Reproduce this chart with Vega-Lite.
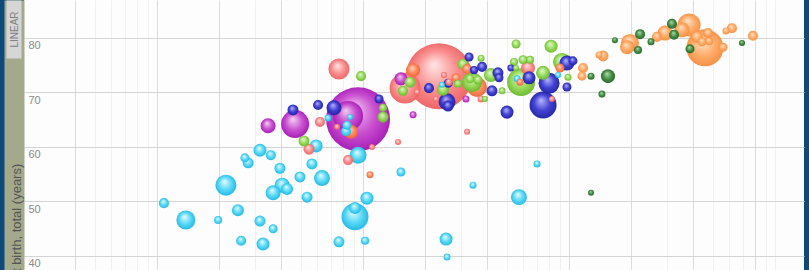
{
  "$schema": "https://vega.github.io/schema/vega-lite/v6.json",
  "width": 780,
  "height": 270,
  "autosize": "none",
  "padding": {"left": 24, "top": 0, "right": 5, "bottom": 0},
  "background": "#0d4a7a",
  "view": {"fill": "#fdfdfd", "stroke": null},
  "config": {"font": "Liberation Sans"},
  "data": {"values": [
    {"region":"Africa","income":108,"life":49.7,"pop":31},
    {"region":"Africa","income":138,"life":46.6,"pop":110},
    {"region":"Africa","income":198,"life":46.6,"pop":20},
    {"region":"Africa","income":216,"life":53.0,"pop":135},
    {"region":"Africa","income":247,"life":48.4,"pop":44},
    {"region":"Africa","income":256,"life":42.8,"pop":31},
    {"region":"Africa","income":267,"life":58.0,"pop":25},
    {"region":"Africa","income":277,"life":57.1,"pop":37},
    {"region":"Africa","income":316,"life":59.4,"pop":52},
    {"region":"Africa","income":316,"life":46.4,"pop":37},
    {"region":"Africa","income":327,"life":42.2,"pop":52},
    {"region":"Africa","income":357,"life":58.5,"pop":31},
    {"region":"Africa","income":366,"life":45.0,"pop":25},
    {"region":"Africa","income":395,"life":56.1,"pop":37},
    {"region":"Africa","income":405,"life":53.0,"pop":69},
    {"region":"Africa","income":366,"life":51.6,"pop":69},
    {"region":"Africa","income":428,"life":52.3,"pop":44},
    {"region":"Africa","income":494,"life":54.5,"pop":37},
    {"region":"Africa","income":535,"life":50.8,"pop":37},
    {"region":"Africa","income":565,"life":56.9,"pop":37},
    {"region":"Africa","income":632,"life":54.3,"pop":78},
    {"region":"Africa","income":592,"life":60.2,"pop":52},
    {"region":"Africa","income":676,"life":65.3,"pop":15},
    {"region":"Africa","income":764,"life":42.6,"pop":37},
    {"region":"Africa","income":914,"life":47.2,"pop":223},
    {"region":"Africa","income":914,"life":48.8,"pop":44},
    {"region":"Africa","income":1023,"life":42.8,"pop":20},
    {"region":"Africa","income":1045,"life":50.6,"pop":52},
    {"region":"Africa","income":946,"life":58.5,"pop":88},
    {"region":"Africa","income":865,"life":65.5,"pop":11},
    {"region":"Africa","income":836,"life":64.0,"pop":25},
    {"region":"Africa","income":827,"life":62.9,"pop":31},
    {"region":"Africa","income":1528,"life":55.4,"pop":25},
    {"region":"Africa","income":2530,"life":43.1,"pop":52},
    {"region":"Africa","income":2558,"life":39.8,"pop":15},
    {"region":"Africa","income":3420,"life":53.0,"pop":15},
    {"region":"Africa","income":6998,"life":56.9,"pop":15},
    {"region":"Africa","income":5715,"life":50.8,"pop":78},
    {"region":"Africa","income":2417,"life":71.4,"pop":11},
    {"region":"Africa","income":5598,"life":72.5,"pop":15},
    {"region":"Africa","income":8851,"life":73.2,"pop":11},
    {"region":"South Asia","income":946,"life":65.1,"pop":1250},
    {"region":"South Asia","income":846,"life":65.7,"pop":275},
    {"region":"South Asia","income":468,"life":64.2,"pop":239},
    {"region":"South Asia","income":346,"life":63.9,"pop":69},
    {"region":"South Asia","income":1528,"life":72.5,"pop":52},
    {"region":"South Asia","income":1750,"life":65.9,"pop":15},
    {"region":"South Asia","income":3162,"life":68.8,"pop":15},
    {"region":"East Asia","income":2339,"life":73.0,"pop":1330},
    {"region":"East Asia","income":764,"life":74.3,"pop":135},
    {"region":"East Asia","income":1600,"life":70.8,"pop":293},
    {"region":"East Asia","income":618,"life":64.6,"pop":31},
    {"region":"East Asia","income":748,"life":63.7,"pop":11},
    {"region":"East Asia","income":547,"life":59.6,"pop":37},
    {"region":"East Asia","income":846,"life":57.6,"pop":31},
    {"region":"East Asia","income":1106,"life":60.0,"pop":11},
    {"region":"East Asia","income":1479,"life":60.9,"pop":11},
    {"region":"East Asia","income":1828,"life":70.1,"pop":11},
    {"region":"East Asia","income":2472,"life":73.2,"pop":11},
    {"region":"East Asia","income":2614,"life":71.9,"pop":15},
    {"region":"East Asia","income":2262,"life":68.8,"pop":11},
    {"region":"East Asia","income":3199,"life":62.8,"pop":11},
    {"region":"East Asia","income":3741,"life":68.8,"pop":15},
    {"region":"East Asia","income":6324,"life":74.5,"pop":60},
    {"region":"East Asia","income":8260,"life":68.8,"pop":11},
    {"region":"Pacific","income":875,"life":62.8,"pop":60},
    {"region":"Pacific","income":1081,"life":54.9,"pop":15},
    {"region":"Pacific","income":1750,"life":74.1,"pop":60},
    {"region":"Pacific","income":2827,"life":72.7,"pop":25},
    {"region":"Pacific","income":3199,"life":74.3,"pop":31},
    {"region":"Pacific","income":3573,"life":71.0,"pop":122},
    {"region":"Pacific","income":9036,"life":74.5,"pop":25},
    {"region":"Pacific","income":5781,"life":71.9,"pop":15},
    {"region":"America","income":978,"life":73.0,"pop":31},
    {"region":"America","income":1250,"life":67.2,"pop":20},
    {"region":"America","income":1250,"life":65.5,"pop":37},
    {"region":"America","income":517,"life":61.1,"pop":37},
    {"region":"America","income":1690,"life":71.9,"pop":37},
    {"region":"America","income":1563,"life":70.3,"pop":31},
    {"region":"America","income":2445,"life":70.5,"pop":44},
    {"region":"America","income":2891,"life":71.6,"pop":20},
    {"region":"America","income":3741,"life":76.3,"pop":15},
    {"region":"America","income":3055,"life":75.2,"pop":37},
    {"region":"America","income":3382,"life":71.9,"pop":122},
    {"region":"America","income":3305,"life":72.5,"pop":25},
    {"region":"America","income":3614,"life":72.3,"pop":25},
    {"region":"America","income":3908,"life":68.8,"pop":11},
    {"region":"America","income":4178,"life":73.2,"pop":60},
    {"region":"America","income":4732,"life":70.3,"pop":15},
    {"region":"America","income":5534,"life":78.9,"pop":25},
    {"region":"America","income":5408,"life":75.6,"pop":20},
    {"region":"America","income":5534,"life":74.5,"pop":11},
    {"region":"America","income":5848,"life":71.9,"pop":239},
    {"region":"America","income":5984,"life":76.0,"pop":25},
    {"region":"America","income":6471,"life":76.0,"pop":20},
    {"region":"America","income":7482,"life":73.6,"pop":60},
    {"region":"America","income":8185,"life":78.5,"pop":52},
    {"region":"America","income":9247,"life":75.6,"pop":99},
    {"region":"America","income":9886,"life":72.8,"pop":15},
    {"region":"Europe","income":457,"life":66.8,"pop":37},
    {"region":"Europe","income":605,"life":67.7,"pop":31},
    {"region":"Europe","income":723,"life":67.2,"pop":69},
    {"region":"Europe","income":1196,"life":68.8,"pop":25},
    {"region":"Europe","income":2090,"life":70.8,"pop":31},
    {"region":"Europe","income":2588,"life":71.7,"pop":25},
    {"region":"Europe","income":2558,"life":68.3,"pop":88},
    {"region":"Europe","income":2588,"life":67.5,"pop":37},
    {"region":"Europe","income":3273,"life":76.5,"pop":25},
    {"region":"Europe","income":3459,"life":74.1,"pop":20},
    {"region":"Europe","income":3784,"life":74.7,"pop":31},
    {"region":"Europe","income":4519,"life":73.6,"pop":37},
    {"region":"Europe","income":4571,"life":72.7,"pop":25},
    {"region":"Europe","income":4227,"life":70.3,"pop":37},
    {"region":"Europe","income":5224,"life":74.5,"pop":15},
    {"region":"Europe","income":6397,"life":72.7,"pop":52},
    {"region":"Europe","income":5000,"life":66.4,"pop":52},
    {"region":"Europe","income":8000,"life":71.7,"pop":135},
    {"region":"Europe","income":7482,"life":67.7,"pop":223},
    {"region":"Europe","income":9772,"life":75.4,"pop":69},
    {"region":"Europe","income":10450,"life":75.8,"pop":25},
    {"region":"Europe","income":9772,"life":71.0,"pop":25},
    {"region":"Middle East","income":12790,"life":73.0,"pop":15},
    {"region":"Middle East","income":15460,"life":73.0,"pop":60},
    {"region":"Middle East","income":14450,"life":69.7,"pop":15},
    {"region":"Middle East","income":16710,"life":79.6,"pop":11},
    {"region":"Middle East","income":22130,"life":80.7,"pop":31},
    {"region":"Middle East","income":21630,"life":77.8,"pop":20},
    {"region":"Middle East","income":25000,"life":79.3,"pop":15},
    {"region":"Middle East","income":31620,"life":82.6,"pop":31},
    {"region":"Middle East","income":32360,"life":80.6,"pop":31},
    {"region":"Middle East","income":38670,"life":78.0,"pop":25},
    {"region":"Middle East","income":69180,"life":79.1,"pop":11},
    {"region":"Middle East","income":12790,"life":51.6,"pop":11},
    {"region":"High income","income":11700,"life":74.5,"pop":31},
    {"region":"High income","income":11560,"life":73.0,"pop":25},
    {"region":"High income","income":13990,"life":76.9,"pop":15},
    {"region":"High income","income":14620,"life":76.7,"pop":37},
    {"region":"High income","income":19770,"life":79.1,"pop":99},
    {"region":"High income","income":19140,"life":78.3,"pop":60},
    {"region":"High income","income":26730,"life":80.2,"pop":31},
    {"region":"High income","income":29240,"life":80.9,"pop":69},
    {"region":"High income","income":38280,"life":82.4,"pop":162},
    {"region":"High income","income":35400,"life":81.5,"pop":69},
    {"region":"High income","income":45710,"life":78.2,"pop":418},
    {"region":"High income","income":41790,"life":80.2,"pop":44},
    {"region":"High income","income":47300,"life":80.9,"pop":31},
    {"region":"High income","income":44260,"life":79.3,"pop":25},
    {"region":"High income","income":47860,"life":79.4,"pop":20},
    {"region":"High income","income":55960,"life":78.3,"pop":25},
    {"region":"High income","income":57820,"life":81.3,"pop":15},
    {"region":"High income","income":61800,"life":81.8,"pop":31},
    {"region":"High income","income":78170,"life":80.4,"pop":31}
  ]},
  "layer": [
    {
      "mark": {"type": "point", "filled": true, "shape": "circle", "opacity": 0.97, "clip": true},
      "encoding": {
        "x": {
          "field": "income", "type": "quantitative",
          "scale": {"type": "log", "domain": [22.6, 138300], "nice": false},
          "axis": {
            "values": [40,50,60,70,80,90,100,200,300,400,500,600,700,800,900,1000,2000,3000,4000,5000,6000,7000,8000,9000,10000,20000,30000,40000,50000,60000,70000,80000,90000,100000],
            "grid": true,
            "gridColor": {"condition": {"test": "indexof([40,100,200,400,1000,2000,4000,10000,20000,40000,80000], datum.value) >= 0", "value": "#dcdcdc"}, "value": "#f1f1f1"},
            "labels": false, "ticks": false, "domain": false, "title": null
          }
        },
        "y": {
          "field": "life", "type": "quantitative",
          "scale": {"domain": [37.43, 86.97], "nice": false, "zero": false},
          "axis": {
            "values": [40, 50, 60, 70, 80],
            "grid": true, "gridColor": "#d4d4d4",
            "domain": true, "domainColor": "#a3aa8b", "domainWidth": 20,
            "offset": 10,
            "ticks": false, "tickSize": 0,
            "labelAlign": "left", "labelBaseline": "top", "labelPadding": -14, "labelOffset": 2,
            "labelColor": "#8a8a8a", "labelFontSize": 11, "labelFont": "Liberation Sans",
            "title": "Life expectancy at birth, total (years)",
            "titleFont": "Liberation Sans", "titleFontSize": 13, "titleFontWeight": "normal",
            "titleColor": "#555555", "titleAngle": 270, "titleAlign": "center", "titleBaseline": "middle",
            "titleX": 2, "titleY": 268
          }
        },
        "size": {"field": "pop", "type": "quantitative", "scale": {"domain": [0, 1330], "range": [0, 4356]}, "legend": null},
        "order": {"field": "pop", "type": "quantitative", "sort": "descending"},
        "fill": {
          "condition": [
            {"test": "datum.region === 'Africa'", "value": {"gradient": "radial", "x1": 0.42, "y1": 0.32, "r1": 0, "x2": 0.5, "y2": 0.5, "r2": 0.55, "stops": [{"offset": 0, "color": "#e8fcff"}, {"offset": 0.55, "color": "#55d8f5"}, {"offset": 1, "color": "#16b2e0"}]}},
            {"test": "datum.region === 'South Asia'", "value": {"gradient": "radial", "x1": 0.42, "y1": 0.32, "r1": 0, "x2": 0.5, "y2": 0.5, "r2": 0.55, "stops": [{"offset": 0, "color": "#f3d0f3"}, {"offset": 0.55, "color": "#c84ccf"}, {"offset": 1, "color": "#a010b0"}]}},
            {"test": "datum.region === 'East Asia'", "value": {"gradient": "radial", "x1": 0.42, "y1": 0.32, "r1": 0, "x2": 0.5, "y2": 0.5, "r2": 0.55, "stops": [{"offset": 0, "color": "#ffe6e6"}, {"offset": 0.55, "color": "#fa8c8c"}, {"offset": 1, "color": "#ec5a5a"}]}},
            {"test": "datum.region === 'Pacific'", "value": {"gradient": "radial", "x1": 0.42, "y1": 0.32, "r1": 0, "x2": 0.5, "y2": 0.5, "r2": 0.55, "stops": [{"offset": 0, "color": "#ffd8c4"}, {"offset": 0.55, "color": "#ff8a5c"}, {"offset": 1, "color": "#ec5f2c"}]}},
            {"test": "datum.region === 'America'", "value": {"gradient": "radial", "x1": 0.42, "y1": 0.32, "r1": 0, "x2": 0.5, "y2": 0.5, "r2": 0.55, "stops": [{"offset": 0, "color": "#e6f9d2"}, {"offset": 0.55, "color": "#96da58"}, {"offset": 1, "color": "#62b424"}]}},
            {"test": "datum.region === 'Europe'", "value": {"gradient": "radial", "x1": 0.42, "y1": 0.32, "r1": 0, "x2": 0.5, "y2": 0.5, "r2": 0.55, "stops": [{"offset": 0, "color": "#b4b4ff"}, {"offset": 0.55, "color": "#3c3cd2"}, {"offset": 1, "color": "#1c1c9c"}]}},
            {"test": "datum.region === 'Middle East'", "value": {"gradient": "radial", "x1": 0.42, "y1": 0.32, "r1": 0, "x2": 0.5, "y2": 0.5, "r2": 0.55, "stops": [{"offset": 0, "color": "#b0dcb0"}, {"offset": 0.55, "color": "#3f8c3f"}, {"offset": 1, "color": "#1f5c1f"}]}}
          ],
          "value": {"gradient": "radial", "x1": 0.42, "y1": 0.32, "r1": 0, "x2": 0.5, "y2": 0.5, "r2": 0.55, "stops": [{"offset": 0, "color": "#ffe4c8"}, {"offset": 0.55, "color": "#ffaa66"}, {"offset": 1, "color": "#f48a3a"}]}
        }
      }
    },
    {
      "transform": [{"filter": "false"}],
      "mark": {"type": "point"},
      "encoding": {
        "y": {
          "field": "life", "type": "quantitative",
          "scale": {"domain": [37.43, 86.97], "nice": false, "zero": false},
          "axis": {
            "orient": "right", "offset": -798, "values": [81.65],
            "grid": false, "domain": false,
            "ticks": true, "tickSize": 15, "tickWidth": 58, "tickColor": "#d6d6d6",
            "labelExpr": "'LINEAR'", "labelAngle": 270, "labelAlign": "center", "labelBaseline": "middle",
            "labelPadding": -7, "labelColor": "#808080", "labelFontSize": 10, "labelFont": "Liberation Sans",
            "title": null
          }
        }
      }
    }
  ],
  "resolve": {"axis": {"y": "independent"}}
}
